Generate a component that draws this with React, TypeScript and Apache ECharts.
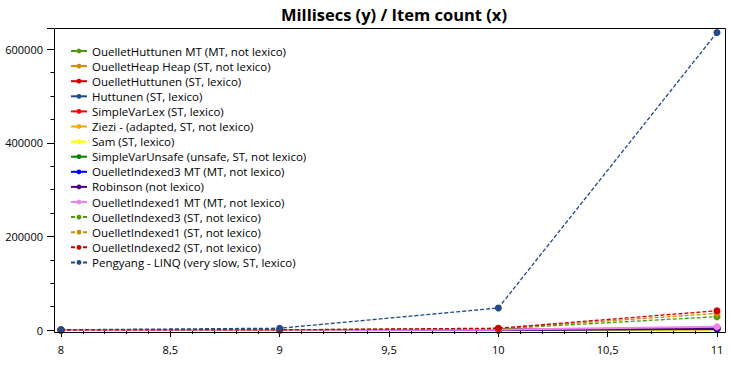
import React, { useEffect, useRef } from "react";
import * as echarts from "echarts";

const itemCounts = [8, 9, 10, 11];

const seriesNames = [
  "OuelletHuttunen MT (MT, not lexico)",
  "OuelletHeap Heap (ST, not lexico)",
  "OuelletHuttunen (ST, lexico)",
  "Huttunen (ST, lexico)",
  "SimpleVarLex (ST, lexico)",
  "Ziezi - (adapted, ST, not lexico)",
  "Sam (ST, lexico)",
  "SimpleVarUnsafe (unsafe, ST, not lexico)",
  "OuelletIndexed3 MT (MT, not lexico)",
  "Robinson (not lexico)",
  "OuelletIndexed1 MT (MT, not lexico)",
  "OuelletIndexed3 (ST, not lexico)",
  "OuelletIndexed1 (ST, not lexico)",
  "OuelletIndexed2 (ST, not lexico)",
  "Pengyang - LINQ (very slow, ST, lexico)",
];

const ouelletHuttunenMT = [3, 30, 250, 2200];
const ouelletHeap = [2, 15, 120, 1000];
const ouelletHuttunen = [4, 35, 300, 2800];
const huttunen = [5, 40, 320, 3000];
const simpleVarLex = [5, 45, 350, 3300];
const ziezi = [3, 25, 200, 1800];
const sam = [3, 20, 180, 1500];
const simpleVarUnsafe = [3, 25, 230, 2100];
const ouelletIndexed3MT = [2, 20, 200, 2500];
const robinson = [6, 50, 450, 4200];
const ouelletIndexed1MT = [10, 80, 700, 7000];
const ouelletIndexed3 = [30, 280, 2700, 28500];
const ouelletIndexed1 = [35, 340, 3300, 35500];
const ouelletIndexed2 = [40, 390, 3800, 41200];
const pengyang = [450, 3800, 47000, 636000];

const seriesValues = [
  ouelletHuttunenMT,
  ouelletHeap,
  ouelletHuttunen,
  huttunen,
  simpleVarLex,
  ziezi,
  sam,
  simpleVarUnsafe,
  ouelletIndexed3MT,
  robinson,
  ouelletIndexed1MT,
  ouelletIndexed3,
  ouelletIndexed1,
  ouelletIndexed2,
  pengyang,
];

const seriesColors = [
  "#4E9A06",
  "#C88D00",
  "#CC0000",
  "#204A87",
  "#FF0000",
  "#FFA500",
  "#FFFF00",
  "#008000",
  "#0000FF",
  "#4B0082",
  "#EE82EE",
  "#4E9A06",
  "#C88D00",
  "#CC0000",
  "#204A87",
];

const dashed = [false, false, false, false, false, false, false, false, false, false, false, true, true, true, true];

const FONT = "'Open Sans', 'Noto Sans', sans-serif";

export default function App() {
  const ref = useRef<HTMLDivElement>(null);

  useEffect(() => {
    if (!ref.current) return;
    const chart = echarts.init(ref.current, undefined, { renderer: "svg" });

    const series = seriesNames.map((name, i) => ({
      name,
      type: "line",
      data: itemCounts.map((x, j) => [x, seriesValues[i][j]]),
      symbol: "circle",
      symbolSize: 7,
      showSymbol: true,
      color: seriesColors[i],
      lineStyle: {
        width: dashed[i] ? 1.3 : 2,
        type: dashed[i] ? [4, 2] : "solid",
        color: seriesColors[i],
      },
      itemStyle: { color: seriesColors[i] },
      z: 2 + i,
    }));

    chart.setOption({
      animation: false,
      backgroundColor: "#ffffff",
      title: {
        text: "Millisecs (y) / Item count (x)",
        left: 389,
        textAlign: "center",
        top: 1,
        textStyle: {
          fontFamily: FONT,
          fontWeight: "bold",
          fontSize: 16.5,
          color: "#000",
        },
      },
      legend: {
        orient: "vertical",
        left: 70,
        top: 45,
        itemWidth: 16,
        itemHeight: 6,
        itemGap: 3.1,
        padding: 0,
        textStyle: { fontFamily: FONT, fontSize: 11.5, color: "#000" },
        data: seriesNames,
      },
      grid: { left: 61, right: 13, top: 28, bottom: 35, containLabel: false },
      xAxis: {
        type: "value",
        min: 8,
        max: 11,
        interval: 0.5,
        offset: 3,
        axisLine: { show: false },
        axisTick: { show: true, length: 7, lineStyle: { color: "#000" } },
        minorTick: { show: true, splitNumber: 5, length: 4, lineStyle: { color: "#000" } },
        splitLine: { show: false },
        axisLabel: {
          margin: 11,
          color: "#000",
          fontFamily: FONT,
          fontSize: 11,
          formatter: (v: number) => String(v).replace(".", ","),
        },
      },
      yAxis: {
        type: "value",
        min: 0,
        max: 645500,
        interval: 200000,
        offset: 7,
        axisLine: { show: false },
        axisTick: { show: true, length: 7, lineStyle: { color: "#000" } },
        minorTick: { show: true, splitNumber: 4, length: 3.5, lineStyle: { color: "#000" } },
        splitLine: { show: false },
        axisLabel: {
          margin: 11,
          color: "#000",
          fontFamily: FONT,
          fontSize: 11,
          showMaxLabel: false,
          formatter: (v: number) => String(v),
        },
      },
      graphic: [
        {
          type: "rect",
          shape: { x: 54.5, y: 28.5, width: 671, height: 304 },
          style: { fill: "none", stroke: "#000", lineWidth: 1 },
          silent: true,
          z: 100,
        },
      ],
      series,
    });

    return () => chart.dispose();
  }, []);

  return <div ref={ref} style={{ width: 730, height: 365, position: "absolute", left: 0, top: 0 }} />;
}
